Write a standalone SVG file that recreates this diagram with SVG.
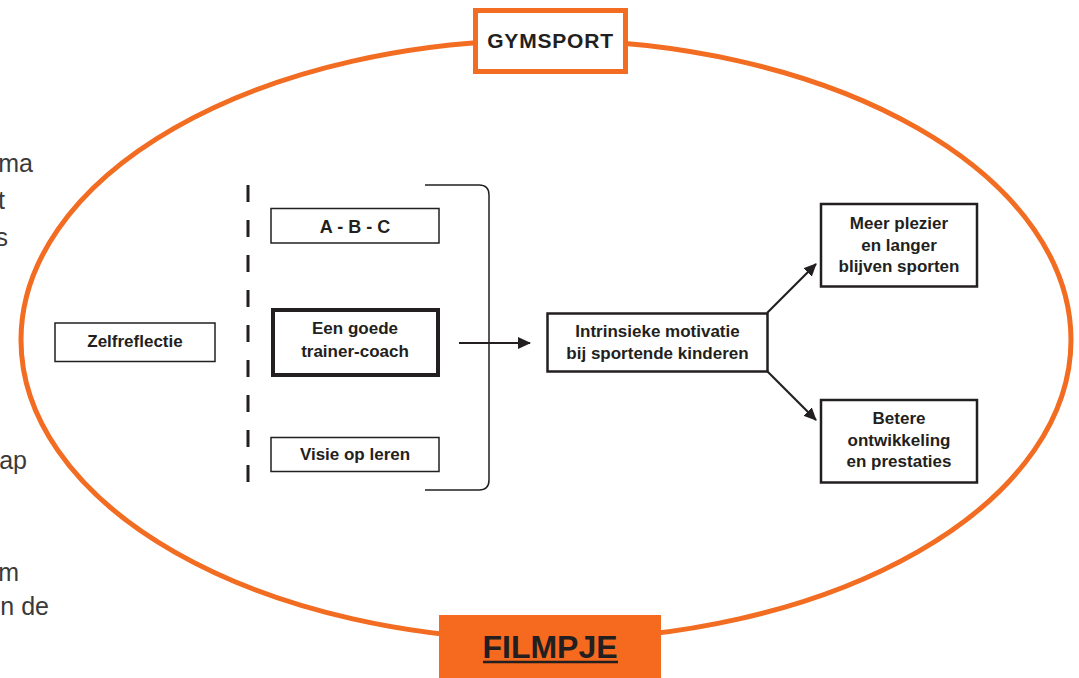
<svg xmlns="http://www.w3.org/2000/svg" width="1079" height="678" viewBox="0 0 1079 678">
<style>
.t{font-family:"Liberation Sans",Arial,sans-serif;font-weight:bold;font-size:17px;fill:#231F20;text-anchor:middle}
.frag{font-family:"Liberation Sans",Arial,sans-serif;font-size:25px;fill:#3a3a3a;text-anchor:end}
.box{fill:#fff;stroke:#231F20;stroke-width:1.5}
.bold{fill:#fff;stroke:#231F20;stroke-width:4}
.mid{fill:#fff;stroke:#231F20;stroke-width:2.5}
.con{fill:none;stroke:#231F20;stroke-width:2.2}
</style>
<defs>
<marker id="ah" markerUnits="userSpaceOnUse" markerWidth="13" markerHeight="12" refX="12" refY="6" orient="auto">
<path d="M0,0 L13,6 L0,12 z" fill="#231F20"/>
</marker>
</defs>
<rect width="1079" height="678" fill="#fff"/>
<g id="side-text">
<text class="frag" x="33" y="172">ma</text>
<text class="frag" x="5" y="209">t</text>
<text class="frag" x="8" y="246">s</text>
<text class="frag" x="27" y="469">ap</text>
<text class="frag" x="19" y="581">m</text>
<text class="frag" x="49" y="615">n de</text>
</g>
<g id="gymsport-ellipse">
<ellipse cx="546" cy="340" rx="525" ry="300" fill="none" stroke="#F26C22" stroke-width="5"/>
</g>
<g id="gymsport">
<rect x="475.5" y="10.5" width="150" height="61" fill="#fff" stroke="#F26C22" stroke-width="5"/>
<text class="t" x="550.5" y="48" style="font-size:21px;letter-spacing:0.8px">GYMSPORT</text>
</g>
<g id="filmpje">
<rect x="439" y="615" width="222" height="63" fill="#F56A1F"/>
<text class="t" x="550" y="658" style="font-size:32px">FILMPJE</text>
<line x1="483" y1="662" x2="618" y2="662" stroke="#231F20" stroke-width="2.5"/>
</g>
<g id="zelfreflectie">
<rect class="box" x="55" y="323" width="160" height="38.5"/>
<text class="t" x="135" y="347">Zelfreflectie</text>
</g>
<g id="divider">
<line x1="248" y1="185" x2="248" y2="490" stroke="#231F20" stroke-width="3" stroke-dasharray="17 18"/>
</g>
<g id="abc">
<rect class="box" x="271" y="208.5" width="168" height="34.5"/>
<text class="t" x="355" y="233" style="font-size:18px">A - B - C</text>
</g>
<g id="trainer-coach">
<rect class="bold" x="273" y="310" width="165" height="65"/>
<text class="t" x="355" y="334">Een goede</text>
<text class="t" x="355" y="357">trainer-coach</text>
</g>
<g id="visie">
<rect class="box" x="271" y="437.5" width="168" height="34"/>
<text class="t" x="355" y="460">Visie op leren</text>
</g>
<g id="motivatie">
<rect class="mid" x="547.5" y="313.5" width="220" height="58"/>
<text class="t" x="657.5" y="337">Intrinsieke motivatie</text>
<text class="t" x="657.5" y="359">bij sportende kinderen</text>
</g>
<g id="plezier">
<rect class="mid" x="821" y="204" width="156" height="82.5"/>
<text class="t" x="899" y="229">Meer plezier</text>
<text class="t" x="899" y="251">en langer</text>
<text class="t" x="899" y="272">blijven sporten</text>
</g>
<g id="ontwikkeling">
<rect class="mid" x="821" y="400" width="156" height="82.5"/>
<text class="t" x="899" y="424">Betere</text>
<text class="t" x="899" y="446">ontwikkeling</text>
<text class="t" x="899" y="467">en prestaties</text>
</g>
<g id="connectors">
<path d="M425,185 H479 Q489,185 489,195 V480 Q489,490 479,490 H425" fill="none" stroke="#231F20" stroke-width="1.5"/>
<line class="con" x1="459" y1="343" x2="530" y2="343" marker-end="url(#ah)"/>
<line class="con" x1="767" y1="313" x2="816" y2="264" marker-end="url(#ah)"/>
<line class="con" x1="767" y1="371" x2="816" y2="420" marker-end="url(#ah)"/>
</g>
</svg>
